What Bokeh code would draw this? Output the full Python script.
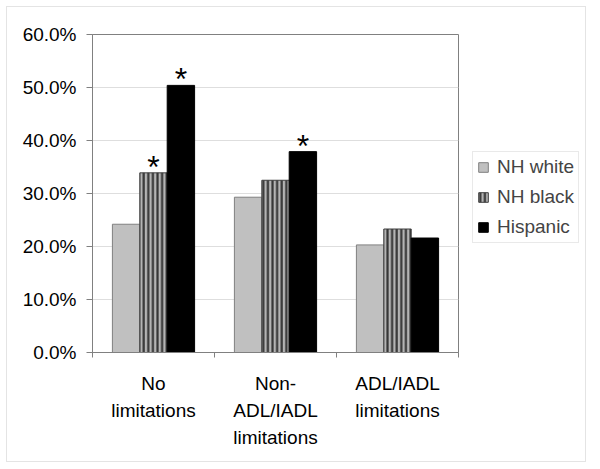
from bokeh.plotting import figure
from bokeh.models import (ColumnDataSource, FixedTicker, PrintfTickFormatter, Legend, LegendItem, Range1d)
from bokeh.core.properties import value
from bokeh.embed import file_html
from bokeh.resources import INLINE

categories = ["No\nlimitations", "Non-\nADL/IADL\nlimitations", "ADL/IADL\nlimitations"]
series_names = ["NH white", "NH black", "Hispanic"]
nh_white = [24.2, 29.3, 20.3]
nh_black = [33.9, 32.5, 23.3]
hispanic = [50.4, 37.9, 21.6]
significant_black = [True, False, False]
significant_hisp = [True, True, False]
y_ticks = [0, 10, 20, 30, 40, 50, 60]

FONT = "Liberation Sans"

p = figure(frame_width=366, frame_height=318, output_backend="svg", toolbar_location=None,
           x_range=Range1d(0, 3), y_range=Range1d(0, 60),
           min_border_left=85, min_border_top=27, min_border_right=0, min_border_bottom=109,
           background_fill_color="white", border_fill_color="white")
p.styles = {"border": "1px solid #e4e4e4", "margin-left": "6px", "margin-top": "6px",
            "max-width": "580px", "overflow": "hidden"}
p.outline_line_color = "#808080"
p.outline_line_width = 1

idx = [i + 0.5 for i in range(len(categories))]
bw = 0.2246
src_w = ColumnDataSource(dict(x=[c - bw for c in idx], top=nh_white))
src_b = ColumnDataSource(dict(x=idx, top=nh_black))
src_h = ColumnDataSource(dict(x=[c + bw for c in idx], top=hispanic))

r_w = p.vbar(x="x", top="top", width=bw, source=src_w, fill_color="#c0c0c0",
             line_color="#808080", line_width=1)
r_b = p.vbar(x="x", top="top", width=bw, source=src_b, fill_color="#b4b4b4",
             hatch_pattern="vertical_line", hatch_color="#353535", hatch_weight=2.2,
             hatch_scale=4.6, line_color="#404040", line_width=1)
r_h = p.vbar(x="x", top="top", width=bw, source=src_h, fill_color="black",
             line_color="black", line_width=1)

# significance asterisks
sx, sy = [], []
for i, c in enumerate(idx):
    if significant_black[i]:
        sx.append(c); sy.append(nh_black[i])
    if significant_hisp[i]:
        sx.append(c + bw); sy.append(hispanic[i])
p.text(x=sx, y=sy, text=["*"] * len(sx), text_font=value(FONT), text_font_size="32px",
       text_align="center", text_baseline="alphabetic", y_offset=-6, text_color="black")

# y axis
p.yaxis.ticker = FixedTicker(ticks=y_ticks)
p.yaxis.formatter = PrintfTickFormatter(format="%.1f%%")
p.yaxis.major_label_text_font = FONT
p.yaxis.major_label_text_font_size = "19px"
p.yaxis.major_label_text_color = "black"
p.yaxis.major_label_standoff = 10
p.yaxis.major_tick_out = 6
p.yaxis.major_tick_in = 0
p.yaxis.minor_tick_out = 0
p.yaxis.minor_tick_in = 0
p.yaxis.axis_line_color = "#808080"
p.yaxis.major_tick_line_color = "#808080"

# x axis
p.xaxis.ticker = FixedTicker(ticks=idx, minor_ticks=[0, 1, 2, 3])
p.xaxis.major_label_overrides = {c: lab for c, lab in zip(idx, categories)}
p.xaxis.major_label_text_font = FONT
p.xaxis.major_label_text_font_size = "19px"
p.xaxis.major_label_text_color = "black"
p.xaxis.major_label_text_line_height = 1.3
p.xaxis.major_label_standoff = 15
p.xaxis.major_tick_out = 0
p.xaxis.major_tick_in = 0
p.xaxis.minor_tick_out = 5
p.xaxis.minor_tick_in = 0
p.xaxis.minor_tick_line_color = "#808080"
p.xaxis.axis_line_color = "#808080"

p.xgrid.visible = False
p.ygrid.ticker = FixedTicker(ticks=y_ticks)
p.ygrid.grid_line_color = "#dedede"

legend = Legend(items=[LegendItem(label=series_names[0], renderers=[r_w]),
                       LegendItem(label=series_names[1], renderers=[r_b]),
                       LegendItem(label=series_names[2], renderers=[r_h])],
                location=(14, 109), padding=4, spacing=8, margin=0,
                glyph_width=12, glyph_height=12, label_height=20,
                label_standoff=8, label_text_font=FONT, label_text_font_size="19px",
                border_line_color="#d4d4d4", border_line_width=1,
                background_fill_color="white")
p.add_layout(legend, "right")

open("out.html", "w").write(file_html(p, INLINE))
